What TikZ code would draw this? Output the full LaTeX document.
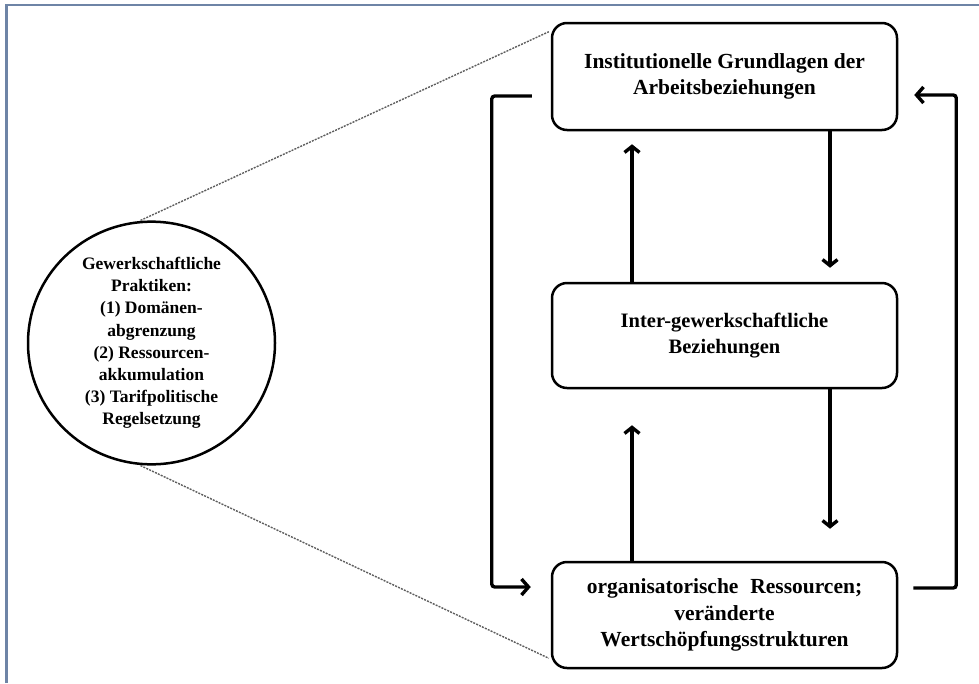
\documentclass[tikz,border=0pt]{standalone}
\usepackage{fontspec}
\setmainfont{Liberation Serif}
\usepackage{xcolor}
\usepackage{tikz}
\usetikzlibrary{arrows.meta,positioning,shapes.geometric}
\definecolor{framecol}{HTML}{6E84A6}
\definecolor{zoomcol}{HTML}{5E5E5E}
\tikzset{
  box/.style   = {rounded corners=15pt, draw=black, line width=2.5pt, align=center,
                  minimum width=345pt, inner sep=4pt,
                  font=\fontsize{21.5}{26.5}\selectfont\bfseries},
  circ/.style  = {ellipse, draw=black, line width=2.5pt, align=center,
                  minimum width=247pt, minimum height=234pt, inner sep=0pt,
                  font=\fontsize{17.5}{22.2}\selectfont\bfseries},
  ar/.style    = {-{Straight Barb[length=6pt,width=15pt]}, line width=3.4pt},
  lp/.style    = {-{Straight Barb[length=7pt,width=16pt]}, line width=3.4pt,
                  rounded corners=3pt},
  zoom/.style  = {draw=zoomcol, line width=1.4pt, dash pattern=on 2pt off 1.2pt},
}
\begin{document}
\begin{tikzpicture}[x=1pt,y=-1pt]
  \useasboundingbox (0,0) rectangle (979,683);
  \fill[white] (0,0) rectangle (979,683);
  \draw[framecol, line width=2.5pt] (6.5,683) -- (6.5,5.2) -- (979,5.2);

  \node[box, minimum height=107pt] (inst) at (724.5,76.5)
    {Institutionelle Grundlagen der\\Arbeitsbeziehungen};
  \node[box, minimum height=105pt, font=\fontsize{20.5}{26}\selectfont\bfseries] (inter) at (724.5,335.5)
    {Inter-gewerkschaftliche\\Beziehungen};
  \node[box, minimum height=106pt] (orga) at (724.5,615)
    {organisatorische\hspace{0.55em}Ressourcen;\\ver\"anderte\\Wertsch\"opfungsstrukturen};
  \node[circ] (gew) at (151.5,343)
    {Gewerkschaftliche\\Praktiken:\\(1) Dom\"anen-\\abgrenzung\\(2) Ressourcen-\\akkumulation\\(3) Tarifpolitische\\Regelsetzung};

  % vertical arrows
  \draw[ar] ([xshift=-92.5pt]inter.north) -- ([xshift=-92.5pt,yshift=-13pt]inst.south);
  \draw[ar] ([xshift=105.5pt]inst.south) -- ([xshift=105.5pt,yshift=14pt]inter.north);
  \draw[ar] ([xshift=-92.5pt]orga.north) -- ([xshift=-92.5pt,yshift=-36pt]inter.south);
  \draw[ar] ([xshift=105.5pt]inter.south) -- ([xshift=105.5pt,yshift=32pt]orga.north);

  % outer loops
  \draw[lp] ([xshift=-19pt,yshift=-19.5pt]inst.west) -- ++(-40,0)
    |- ([xshift=-20pt,yshift=28pt]orga.west);
  \draw[lp] ([xshift=15pt,yshift=27pt]orga.east) -- ++(43,0)
    |- ([xshift=16pt,yshift=-18.5pt]inst.east);

  % zoom lines
  \draw[zoom] ([xshift=-11pt]gew.north) -- ([xshift=-2pt,yshift=-10pt]inst.north west);
  \draw[zoom] ([xshift=-11pt]gew.south) -- ([xshift=-2pt,yshift=11pt]orga.south west);
\end{tikzpicture}
\end{document}
